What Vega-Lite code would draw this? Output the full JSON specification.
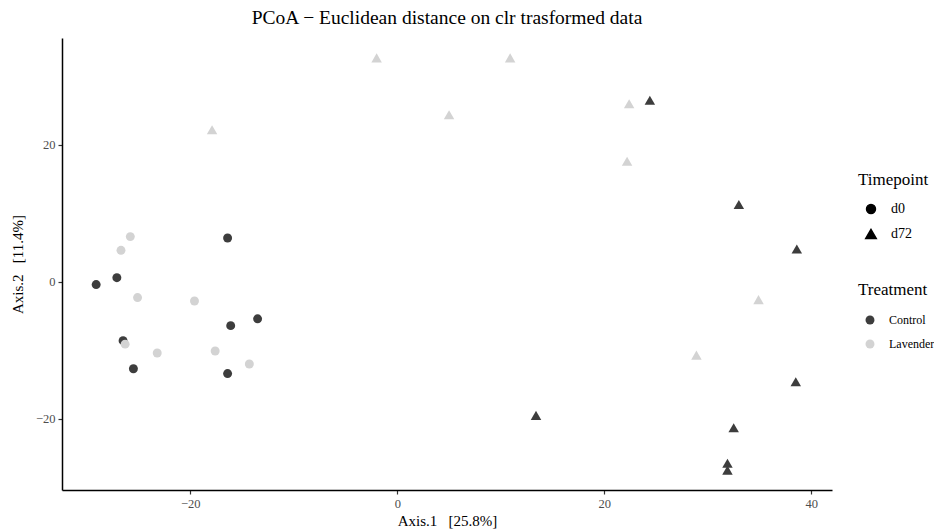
{
  "$schema": "https://vega.github.io/schema/vega-lite/v6.json",
  "autosize": {"type": "none"},
  "padding": {"left": 62, "top": 38, "right": 102, "bottom": 42},
  "width": 770,
  "height": 452,
  "background": "white",
  "title": {
    "text": "PCoA − Euclidean distance on clr trasformed data",
    "font": "Liberation Serif",
    "fontSize": 19.5,
    "fontWeight": "normal",
    "color": "black",
    "anchor": "middle",
    "offset": 10
  },
  "config": {
    "view": {"stroke": null},
    "axis": {
      "grid": false,
      "domainColor": "black",
      "domainWidth": 1.5,
      "tickColor": "#333333",
      "tickWidth": 1.2,
      "tickSize": 4,
      "labelFont": "Liberation Serif",
      "labelFontSize": 12.5,
      "labelColor": "#4d4d4d",
      "titleFont": "Liberation Serif",
      "titleFontSize": 15,
      "titleFontWeight": "normal",
      "titleColor": "black"
    },
    "legend": {
      "titleFont": "Liberation Serif",
      "titleFontSize": 17,
      "titleFontWeight": "normal",
      "titleColor": "black",
      "labelFont": "Liberation Serif",
      "labelColor": "black"
    }
  },
  "data": {
    "values": [
      {"Axis1": -29.1, "Axis2": -0.4, "Timepoint": "d0", "Treatment": "Control"},
      {"Axis1": -27.1, "Axis2": 0.6, "Timepoint": "d0", "Treatment": "Control"},
      {"Axis1": -16.4, "Axis2": 6.4, "Timepoint": "d0", "Treatment": "Control"},
      {"Axis1": -26.5, "Axis2": -8.6, "Timepoint": "d0", "Treatment": "Control"},
      {"Axis1": -25.5, "Axis2": -12.7, "Timepoint": "d0", "Treatment": "Control"},
      {"Axis1": -16.1, "Axis2": -6.4, "Timepoint": "d0", "Treatment": "Control"},
      {"Axis1": -13.5, "Axis2": -5.4, "Timepoint": "d0", "Treatment": "Control"},
      {"Axis1": -16.4, "Axis2": -13.4, "Timepoint": "d0", "Treatment": "Control"},
      {"Axis1": -25.8, "Axis2": 6.6, "Timepoint": "d0", "Treatment": "Lavender"},
      {"Axis1": -26.7, "Axis2": 4.6, "Timepoint": "d0", "Treatment": "Lavender"},
      {"Axis1": -25.1, "Axis2": -2.3, "Timepoint": "d0", "Treatment": "Lavender"},
      {"Axis1": -19.6, "Axis2": -2.8, "Timepoint": "d0", "Treatment": "Lavender"},
      {"Axis1": -26.3, "Axis2": -9.1, "Timepoint": "d0", "Treatment": "Lavender"},
      {"Axis1": -23.2, "Axis2": -10.4, "Timepoint": "d0", "Treatment": "Lavender"},
      {"Axis1": -17.6, "Axis2": -10.1, "Timepoint": "d0", "Treatment": "Lavender"},
      {"Axis1": -14.3, "Axis2": -12.0, "Timepoint": "d0", "Treatment": "Lavender"},
      {"Axis1": 24.4, "Axis2": 26.5, "Timepoint": "d72", "Treatment": "Control"},
      {"Axis1": 33.0, "Axis2": 11.3, "Timepoint": "d72", "Treatment": "Control"},
      {"Axis1": 38.6, "Axis2": 4.8, "Timepoint": "d72", "Treatment": "Control"},
      {"Axis1": 38.5, "Axis2": -14.6, "Timepoint": "d72", "Treatment": "Control"},
      {"Axis1": 13.4, "Axis2": -19.5, "Timepoint": "d72", "Treatment": "Control"},
      {"Axis1": 32.5, "Axis2": -21.3, "Timepoint": "d72", "Treatment": "Control"},
      {"Axis1": 31.9, "Axis2": -26.5, "Timepoint": "d72", "Treatment": "Control"},
      {"Axis1": 31.9, "Axis2": -27.5, "Timepoint": "d72", "Treatment": "Control"},
      {"Axis1": -2.0, "Axis2": 32.7, "Timepoint": "d72", "Treatment": "Lavender"},
      {"Axis1": 10.9, "Axis2": 32.7, "Timepoint": "d72", "Treatment": "Lavender"},
      {"Axis1": 5.0, "Axis2": 24.4, "Timepoint": "d72", "Treatment": "Lavender"},
      {"Axis1": -17.9, "Axis2": 22.2, "Timepoint": "d72", "Treatment": "Lavender"},
      {"Axis1": 22.4, "Axis2": 26.0, "Timepoint": "d72", "Treatment": "Lavender"},
      {"Axis1": 22.2, "Axis2": 17.6, "Timepoint": "d72", "Treatment": "Lavender"},
      {"Axis1": 28.9, "Axis2": -10.7, "Timepoint": "d72", "Treatment": "Lavender"},
      {"Axis1": 34.9, "Axis2": -2.6, "Timepoint": "d72", "Treatment": "Lavender"}
    ]
  },
  "mark": {"type": "point", "filled": true, "opacity": 1},
  "encoding": {
    "x": {
      "field": "Axis1",
      "type": "quantitative",
      "title": "Axis.1\u00a0\u00a0\u00a0[25.8%]",
      "scale": {"domain": [-32.4, 42.0], "nice": false, "zero": false},
      "axis": {"values": [-20, 0, 20, 40], "labelPadding": 3, "titlePadding": 4}
    },
    "y": {
      "field": "Axis2",
      "type": "quantitative",
      "title": "Axis.2\u00a0\u00a0\u00a0[11.4%]",
      "scale": {"domain": [-30.4, 35.6], "nice": false, "zero": false},
      "axis": {"values": [-20, 0, 20], "labelPadding": 3, "titlePadding": 10}
    },
    "size": {
      "field": "Timepoint",
      "type": "nominal",
      "scale": {"domain": ["d0", "d72"], "range": [80, 110]},
      "legend": {
        "orient": "none",
        "legendX": 796,
        "legendY": 134,
        "labelFontSize": 14,
        "symbolFillColor": "black",
        "symbolStrokeColor": "black",
        "rowPadding": 9,
        "titlePadding": 13,
        "labelOffset": 13,
        "symbolOffset": 6
      }
    },
    "shape": {
      "field": "Timepoint",
      "type": "nominal",
      "scale": {"domain": ["d0", "d72"], "range": ["circle", "triangle-up"]},
      "legend": {
        "orient": "none",
        "legendX": 796,
        "legendY": 134,
        "labelFontSize": 14,
        "symbolFillColor": "black",
        "symbolStrokeColor": "black",
        "rowPadding": 9,
        "titlePadding": 13,
        "labelOffset": 13,
        "symbolOffset": 6
      }
    },
    "color": {
      "field": "Treatment",
      "type": "nominal",
      "scale": {"domain": ["Control", "Lavender"], "range": ["#3d3d3d", "#d3d3d3"]},
      "legend": {
        "orient": "none",
        "legendX": 796,
        "legendY": 244,
        "labelFontSize": 12,
        "symbolType": "circle",
        "symbolSize": 80,
        "symbolOpacity": 1,
        "rowPadding": 12,
        "titlePadding": 15,
        "labelOffset": 13,
        "symbolOffset": 6
      }
    }
  }
}
